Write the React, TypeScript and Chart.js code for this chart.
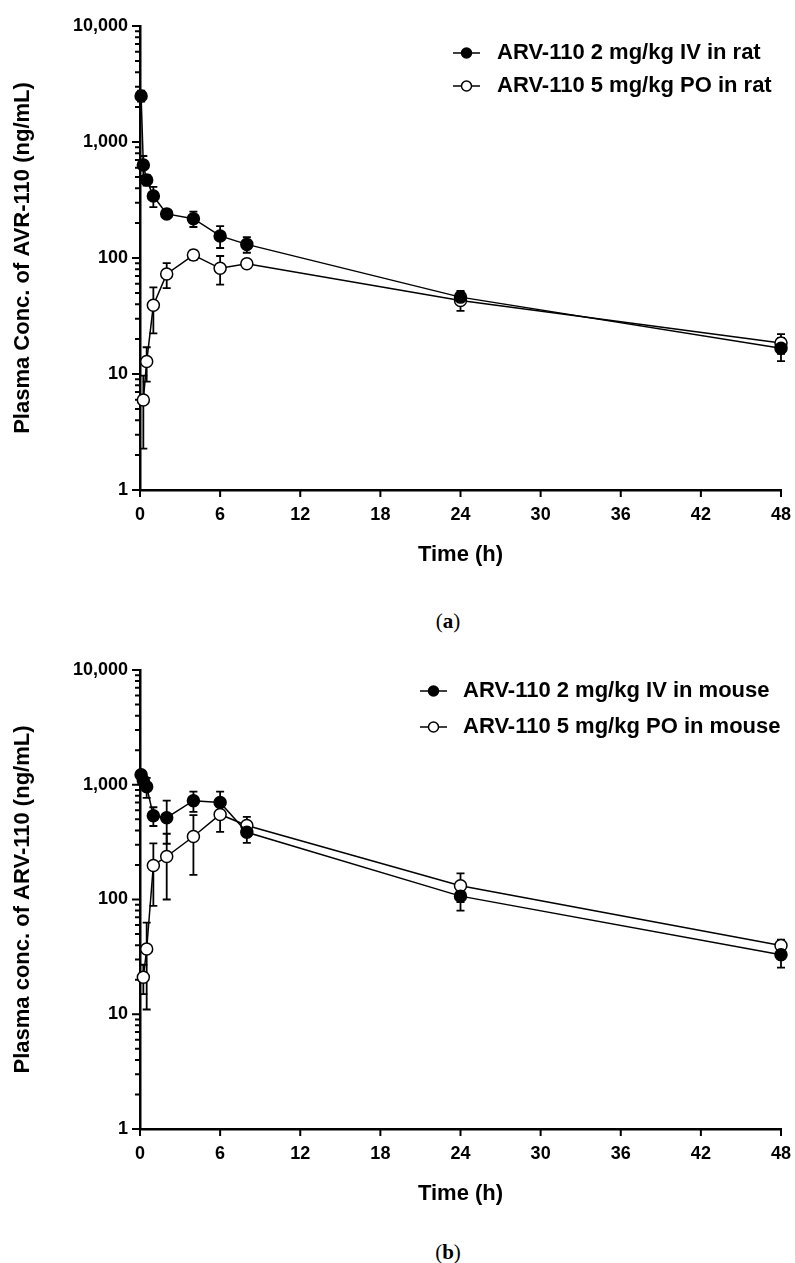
import React, { useEffect, useRef } from "react";
import { Chart, registerables } from "chart.js";

Chart.register(...registerables);

// ---------- data ----------
const timesIV = [0.083, 0.25, 0.5, 1, 2, 4, 6, 8, 24, 48];
const timesPO = [0.25, 0.5, 1, 2, 4, 6, 8, 24, 48];

const ratIVMean = [2495, 634, 470, 342, 240, 218, 155, 131, 46, 16.7];
const ratIVSD = [270, 123, 50, 68, 18, 33, 33, 20, 6, 3.8];
const ratPOMean = [5.97, 12.8, 39.1, 72.8, 106, 81.5, 89.3, 43, 18.5];
const ratPOSD = [3.7, 4.2, 16.7, 17.7, 10, 22.5, 2, 8, 3.6];

const mouseIVMean = [1220, 1083, 960, 537, 516, 726, 700, 385, 107, 33];
const mouseIVSD = [60, 80, 190, 100, 210, 145, 170, 73, 27, 7.5];
const mousePOMean = [21, 37, 198, 237, 354, 551, 442, 132, 39.7];
const mousePOSD = [6, 26, 110, 137, 190, 162, 83, 37, 5];

const xTickValues = [0, 6, 12, 18, 24, 30, 36, 42, 48];
const yMajorTicks = [1, 10, 100, 1000, 10000];

const ratLabels = ["ARV-110 2 mg/kg IV in rat", "ARV-110 5 mg/kg PO in rat"];
const mouseLabels = ["ARV-110 2 mg/kg IV in mouse", "ARV-110 5 mg/kg PO in mouse"];

const FONT = "'Liberation Sans', Arial, sans-serif";

// ---------- plugins ----------
const errorBarPlugin = {
  id: "errorBars",
  beforeDatasetsDraw(chart: any) {
    const { ctx } = chart;
    const yScale = chart.scales.y;
    chart.data.datasets.forEach((ds: any, i: number) => {
      const meta = chart.getDatasetMeta(i);
      if (!ds.errors) return;
      ctx.save();
      ctx.strokeStyle = "#000";
      ctx.lineWidth = 1.8;
      meta.data.forEach((el: any, j: number) => {
        const v = ds.data[j].y;
        const sd = ds.errors[j];
        const x = el.x;
        const top = yScale.getPixelForValue(v + sd);
        const lowVal = v - sd > yScale.min ? v - sd : yScale.min;
        const bot = yScale.getPixelForValue(lowVal);
        const cap = 4;
        ctx.beginPath();
        ctx.moveTo(x, top);
        ctx.lineTo(x, bot);
        ctx.moveTo(x - cap, top);
        ctx.lineTo(x + cap, top);
        if (v - sd > yScale.min) {
          ctx.moveTo(x - cap, bot);
          ctx.lineTo(x + cap, bot);
        }
        ctx.stroke();
      });
      ctx.restore();
    });
  },
};

const axisTickPlugin = {
  id: "axisTicks",
  beforeDatasetsDraw(chart: any) {
    const { ctx, chartArea } = chart;
    const xs = chart.scales.x;
    const ys = chart.scales.y;
    ctx.save();
    ctx.strokeStyle = "#000";
    ctx.lineWidth = 2;
    ctx.beginPath();
    xTickValues.forEach((v) => {
      const px = xs.getPixelForValue(v);
      ctx.moveTo(px, chartArea.bottom);
      ctx.lineTo(px, chartArea.bottom + 7);
    });
    for (let d = 0; d < yMajorTicks.length; d++) {
      const base = yMajorTicks[d];
      const py = ys.getPixelForValue(base);
      ctx.moveTo(chartArea.left - 8, py);
      ctx.lineTo(chartArea.left, py);
      if (d < yMajorTicks.length - 1) {
        for (let m = 2; m <= 9; m++) {
          const pm = ys.getPixelForValue(base * m);
          ctx.moveTo(chartArea.left - 5, pm);
          ctx.lineTo(chartArea.left, pm);
        }
      }
    }
    ctx.stroke();
    ctx.restore();
  },
};

const legendPlugin = {
  id: "customLegend",
  afterDraw(chart: any, _args: any, opts: any) {
    const { ctx, chartArea } = chart;
    chart.data.datasets.forEach((ds: any, i: number) => {
      const y = chartArea.top + opts.top + i * opts.gap;
      const x0 = chartArea.left + opts.left;
      ctx.save();
      ctx.strokeStyle = "#000";
      ctx.lineWidth = 1.5;
      ctx.beginPath();
      ctx.moveTo(x0, y);
      ctx.lineTo(x0 + 27, y);
      ctx.stroke();
      ctx.beginPath();
      ctx.arc(x0 + 13.5, y, 5, 0, Math.PI * 2);
      ctx.fillStyle = ds.pointBackgroundColor;
      ctx.fill();
      ctx.stroke();
      ctx.font = `bold ${opts.fontSize}px ${FONT}`;
      ctx.fillStyle = "#000";
      ctx.textBaseline = "middle";
      ctx.textAlign = "left";
      ctx.fillText(ds.label, x0 + opts.textOffset, y);
      ctx.restore();
    });
  },
};

function makeDataset(label: string, times: number[], mean: number[], sd: number[], filled: boolean) {
  return {
    label,
    data: times.map((t, i) => ({ x: t, y: mean[i] })),
    errors: sd,
    borderColor: "#000",
    borderWidth: 1.5,
    pointRadius: 6,
    pointBorderWidth: 1.5,
    pointBorderColor: "#000",
    pointBackgroundColor: filled ? "#000" : "#fff",
    fill: false,
    tension: 0,
    clip: false,
  };
}

function makeConfig(
  labels: string[],
  ivMean: number[],
  ivSD: number[],
  poMean: number[],
  poSD: number[],
  yTitle: string,
  legendOpts: any
): any {
  return {
    type: "line",
    data: {
      datasets: [
        makeDataset(labels[0], timesIV, ivMean, ivSD, true),
        makeDataset(labels[1], timesPO, poMean, poSD, false),
      ],
    },
    plugins: [errorBarPlugin, axisTickPlugin, legendPlugin],
    options: {
      responsive: false,
      animation: false,
      layout: { padding: { top: 26, right: 14, bottom: 0, left: 0 } },
      plugins: {
        legend: { display: false },
        tooltip: { enabled: false },
        customLegend: legendOpts,
      },
      scales: {
        x: {
          type: "linear",
          min: 0,
          max: 48,
          afterFit: (s: any) => {
            s.height = 90;
            s.paddingLeft = 0;
            s.paddingRight = 0;
          },
          afterBuildTicks: (s: any) => {
            s.ticks = xTickValues.map((v) => ({ value: v }));
          },
          grid: { display: false, drawTicks: false },
          border: { display: true, color: "#000", width: 2.5 },
          ticks: {
            color: "#000",
            padding: 14,
            maxRotation: 0,
            font: { family: FONT, weight: "bold", size: 18 },
          },
          title: {
            display: true,
            text: "Time (h)",
            color: "#000",
            font: { family: FONT, weight: "bold", size: 22 },
            padding: { top: 0, bottom: 12 },
          },
        },
        y: {
          type: "logarithmic",
          min: 1,
          max: 10000,
          afterFit: (s: any) => {
            s.width = 140;
            s.paddingTop = 0;
            s.paddingBottom = 0;
          },
          afterBuildTicks: (s: any) => {
            s.ticks = yMajorTicks.map((v) => ({ value: v, major: true }));
          },
          grid: { display: false, drawTicks: false },
          border: { display: true, color: "#000", width: 2.5 },
          ticks: {
            color: "#000",
            padding: 12,
            autoSkip: false,
            font: { family: FONT, weight: "bold", size: 18 },
            callback: (v: any) => Number(v).toLocaleString("en-US"),
          },
          title: {
            display: true,
            text: yTitle,
            color: "#000",
            font: { family: FONT, weight: "bold", size: 22 },
            padding: { top: 10, bottom: 0 },
          },
        },
      },
    },
  };
}

function ChartCanvas(props: { config: any; top: number; height: number }) {
  const ref = useRef<HTMLCanvasElement | null>(null);
  useEffect(() => {
    if (!ref.current) return;
    const chart = new Chart(ref.current, props.config);
    return () => chart.destroy();
  }, []);
  return (
    <canvas
      ref={ref}
      width={795}
      height={props.height}
      style={{ position: "absolute", left: 0, top: props.top, width: 795, height: props.height }}
    />
  );
}

const captionStyle = (top: number): React.CSSProperties => ({
  position: "absolute",
  left: 448,
  top,
  transform: "translateX(-50%)",
  fontFamily: "'Liberation Serif', 'DejaVu Serif', serif",
  fontSize: 21,
  lineHeight: "24px",
  color: "#000",
  whiteSpace: "nowrap",
});

export default function App() {
  const ratConfig = makeConfig(
    ratLabels,
    ratIVMean,
    ratIVSD,
    ratPOMean,
    ratPOSD,
    "Plasma Conc. of AVR-110 (ng/mL)",
    { left: 313, top: 27, gap: 33, textOffset: 44, fontSize: 22 }
  );
  const mouseConfig = makeConfig(
    mouseLabels,
    mouseIVMean,
    mouseIVSD,
    mousePOMean,
    mousePOSD,
    "Plasma conc. of ARV-110 (ng/mL)",
    { left: 280, top: 21, gap: 36, textOffset: 43, fontSize: 22 }
  );
  return (
    <div style={{ position: "absolute", left: 0, top: 0, width: 795, height: 1263, background: "#fff" }}>
      <ChartCanvas config={ratConfig} top={0} height={580} />
      <div style={captionStyle(609)}>
        (<b>a</b>)
      </div>
      <ChartCanvas config={mouseConfig} top={644} height={575} />
      <div style={captionStyle(1240)}>
        (<b>b</b>)
      </div>
    </div>
  );
}
